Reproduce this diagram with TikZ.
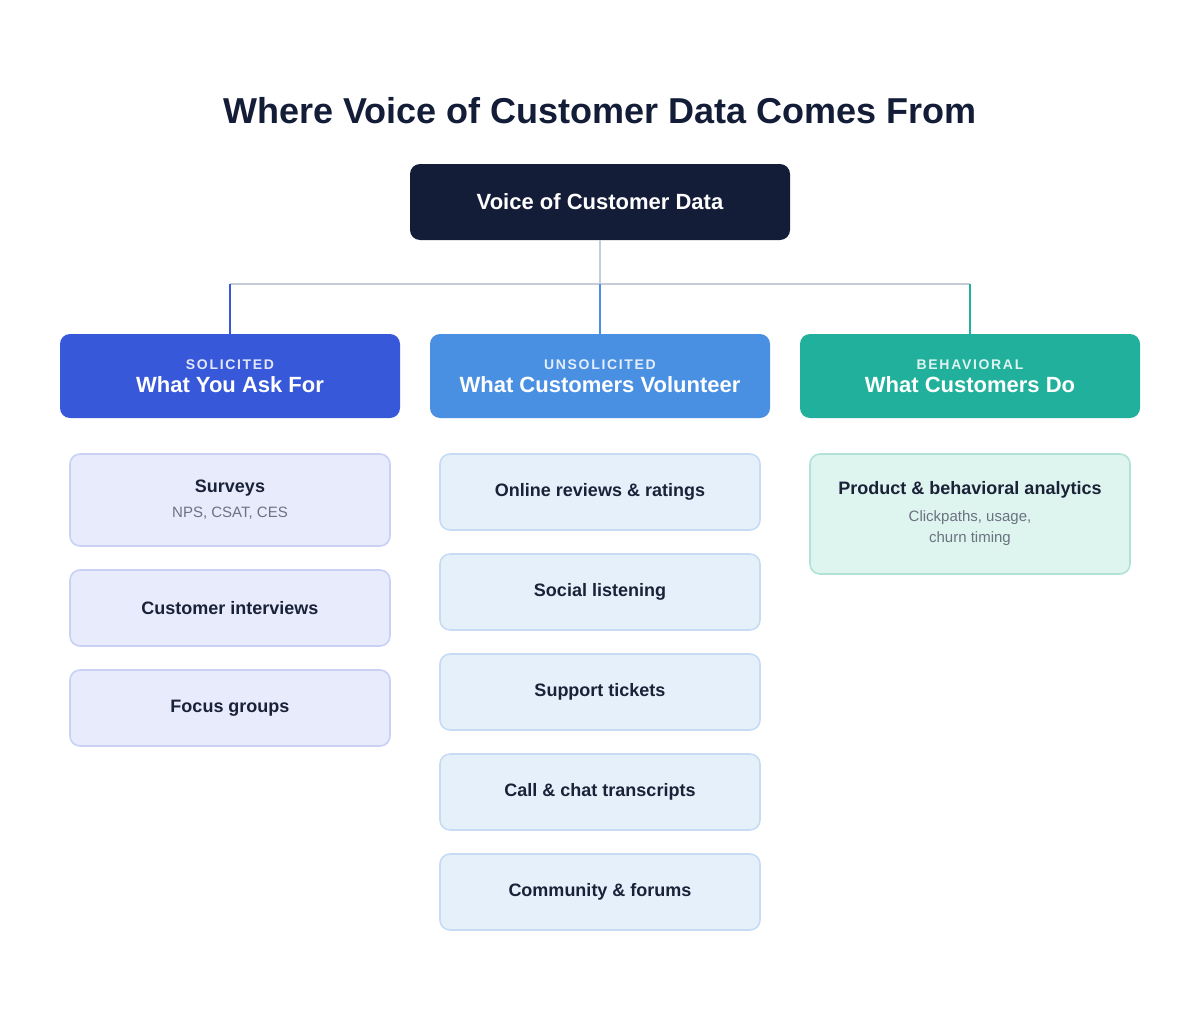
\documentclass[tikz,border=0pt]{standalone}
\usepackage{fontspec}
\setmainfont{Liberation Sans}
\definecolor{navy}{HTML}{141D38}
\definecolor{solc}{HTML}{3758D9}
\definecolor{unsc}{HTML}{4A90E2}
\definecolor{behc}{HTML}{20B09B}
\definecolor{linec}{HTML}{C5CCD8}
\definecolor{txt}{HTML}{1A2238}
\definecolor{subt}{HTML}{6B7280}
\definecolor{f1}{HTML}{E8EBFC}\definecolor{b1}{HTML}{C9D1F5}
\definecolor{f2}{HTML}{E6F0FB}\definecolor{b2}{HTML}{C7DCF3}
\definecolor{f3}{HTML}{DEF4EE}\definecolor{b3}{HTML}{B2E2D6}
\newcommand{\subtxt}{\fontsize{11.25}{14}\selectfont\mdseries\color{subt}}
\begin{document}
\begin{tikzpicture}[x=0.75pt,y=-0.75pt,
 box/.style={rounded corners=7.5pt,line width=1.2pt},
 cat/.style={rounded corners=7.5pt,draw=none,minimum width=255pt,minimum height=63pt,align=center,text=white},
 item/.style={box,minimum width=240pt,align=center,text=txt,font=\fontsize{13.5}{16}\selectfont\bfseries},
 it1/.style={item,fill=f1,draw=b1},
 it2/.style={item,fill=f2,draw=b2,minimum height=57pt}]
\useasboundingbox (0,0) rectangle (1200,1024);
\node[text=navy,font=\fontsize{27}{32}\selectfont\bfseries] (title) at (600,111) {Where Voice of Customer Data Comes From};
\node[rounded corners=7.5pt,fill=navy,minimum width=285pt,minimum height=57pt,text=white,font=\fontsize{16.5}{20}\selectfont\bfseries] (root) at (600,202) {Voice of Customer Data};
\node[cat,fill=solc] (c1) at (230,376) {{\fontsize{10.5}{12}\selectfont\bfseries\addfontfeature{LetterSpace=12}\color{white!85!solc}SOLICITED}\\[4pt]{\fontsize{16.5}{20}\selectfont\bfseries What You Ask For}};
\node[cat,fill=unsc] (c2) at (600,376) {{\fontsize{10.5}{12}\selectfont\bfseries\addfontfeature{LetterSpace=12}\color{white!85!unsc}UNSOLICITED}\\[4pt]{\fontsize{16.5}{20}\selectfont\bfseries What Customers Volunteer}};
\node[cat,fill=behc] (c3) at (970,376) {{\fontsize{10.5}{12}\selectfont\bfseries\addfontfeature{LetterSpace=12}\color{white!85!behc}BEHAVIORAL}\\[4pt]{\fontsize{16.5}{20}\selectfont\bfseries What Customers Do}};
\coordinate (j) at (600,284);\coordinate (jl) at (230,284);\coordinate (jr) at (970,284);
\draw[linec,line width=1.5pt] (root.south) -- (j);
\draw[linec,line width=1.5pt] (jl) -- (jr);
\draw[solc,line width=2pt] (jl) -- (c1.north);
\draw[unsc,line width=2pt] (j) -- (c2.north);
\draw[behc,line width=2pt] (jr) -- (c3.north);
\node[it1,minimum height=69pt] (s1) at (230,500) {Surveys\\[3pt]{\subtxt NPS, CSAT, CES}};
\node[it1,minimum height=57pt] (s2) at (230,608) {Customer interviews};
\node[it1,minimum height=57pt] (s3) at (230,708) {Focus groups};
\node[it2] (u1) at (600,492) {Online reviews \& ratings};
\node[it2] (u2) at (600,592) {Social listening};
\node[it2] (u3) at (600,692) {Support tickets};
\node[it2] (u4) at (600,792) {Call \& chat transcripts};
\node[it2] (u5) at (600,892) {Community \& forums};
\node[item,fill=f3,draw=b3,minimum height=90pt] (b1n) at (970,514) {Product \& behavioral analytics\\[4pt]{\subtxt Clickpaths, usage,}\\{\subtxt churn timing}};
\end{tikzpicture}
\end{document}
